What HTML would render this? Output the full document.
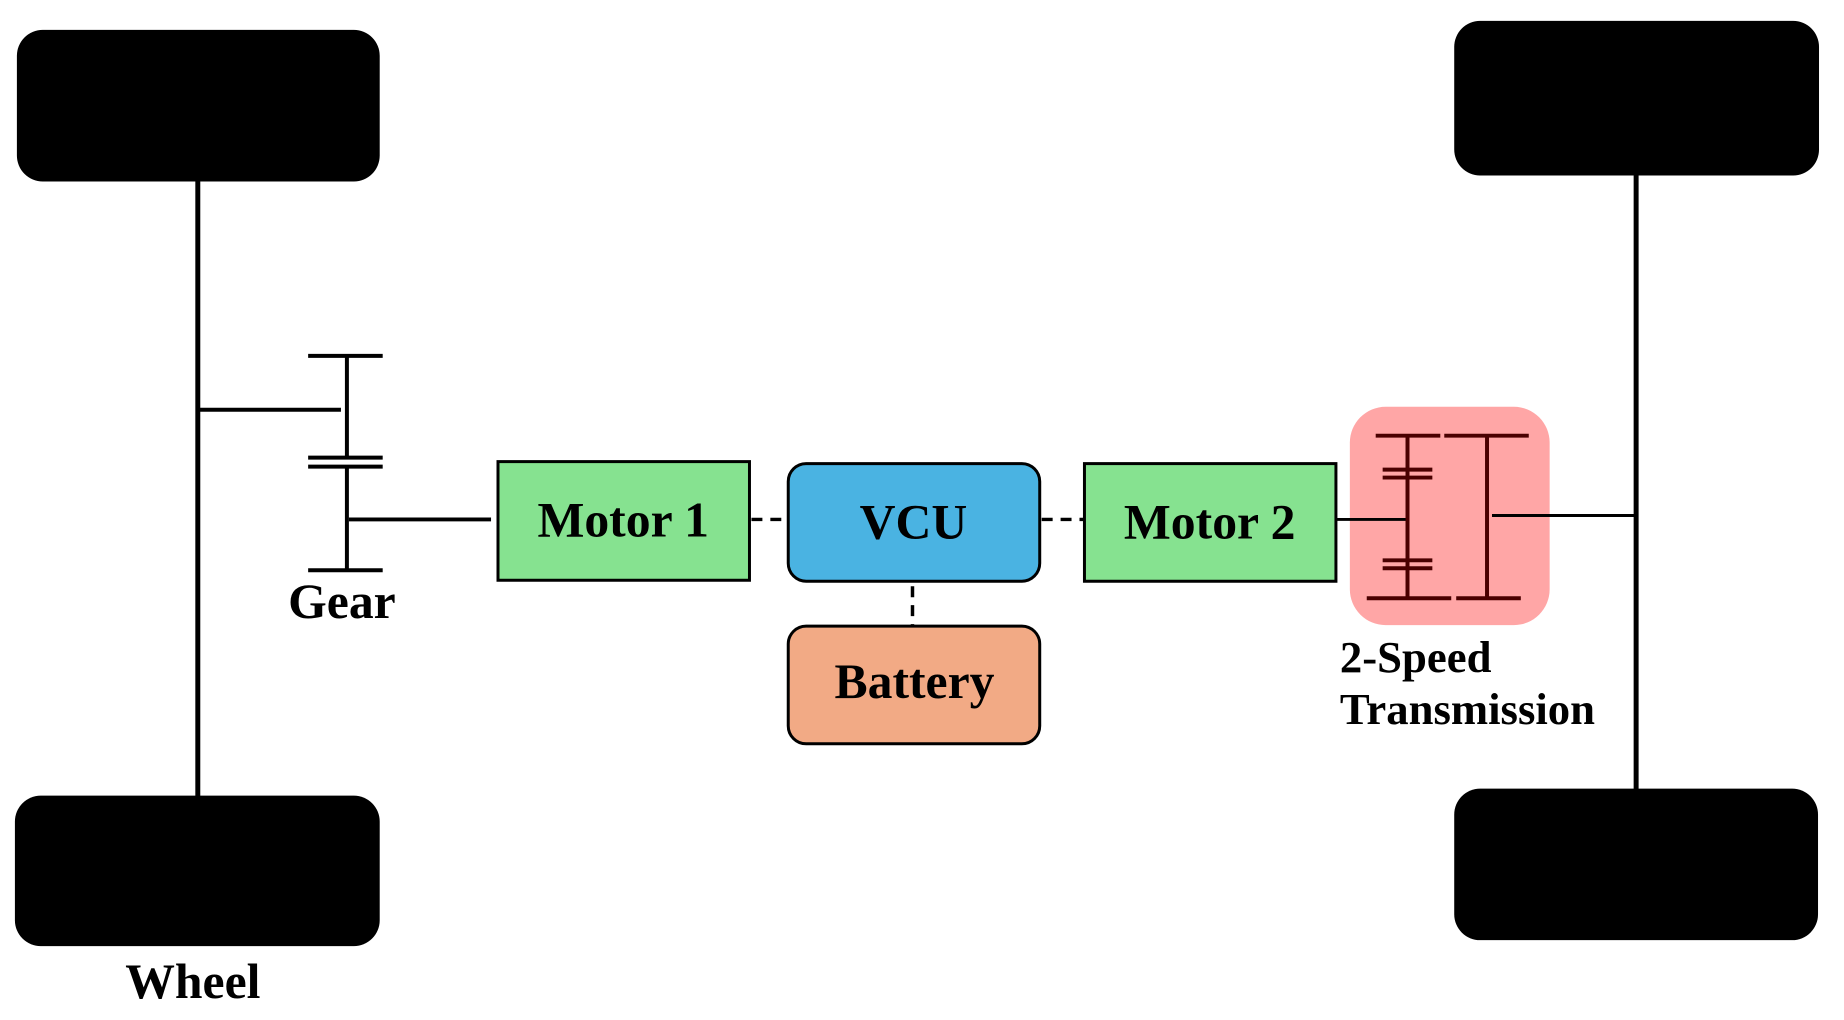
<!DOCTYPE html>
<html><head><meta charset="utf-8"><style>
html,body{margin:0;padding:0;background:#fff;width:1844px;height:1020px;overflow:hidden}
</style></head><body>
<svg width="1844" height="1020" viewBox="0 0 1844 1020" xmlns="http://www.w3.org/2000/svg" font-family="Liberation Serif, serif" font-weight="bold">
<g transform="scale(0.994,0.997)">
<rect x="17" y="30" width="365" height="152" rx="26" fill="#000"/>
<rect x="15" y="798" width="367" height="151" rx="26" fill="#000"/>
<rect x="1463" y="21" width="367" height="155" rx="26" fill="#000"/>
<rect x="1463" y="791" width="366" height="152" rx="26" fill="#000"/>
<g stroke="#000" stroke-width="5">
<line x1="199" y1="180" x2="199" y2="800"/>
<line x1="1646" y1="174" x2="1646" y2="793"/>
</g>
<g stroke="#000" stroke-width="4">
<line x1="199" y1="411" x2="343" y2="411"/>
<line x1="349" y1="357" x2="349" y2="459"/>
<line x1="349" y1="468" x2="349" y2="572"/>
<line x1="310" y1="357" x2="385" y2="357"/>
<line x1="310" y1="459" x2="385" y2="459"/>
<line x1="310" y1="468" x2="385" y2="468"/>
<line x1="310" y1="572" x2="385" y2="572"/>
<line x1="351" y1="521" x2="494" y2="521"/>
</g>
<g stroke="#000" stroke-width="3.5" stroke-dasharray="11,8">
<line x1="756" y1="521" x2="792" y2="521"/>
<line x1="1048" y1="521" x2="1090" y2="521"/>
<line x1="918" y1="588" x2="918" y2="627"/>
</g>
<rect x="501" y="463" width="253" height="119" fill="#86e290" stroke="#000" stroke-width="3"/>
<rect x="793" y="465" width="253" height="118" rx="18" fill="#4ab3e2" stroke="#000" stroke-width="3"/>
<rect x="1091" y="465" width="253" height="118" fill="#86e290" stroke="#000" stroke-width="3"/>
<rect x="793" y="628" width="253" height="118" rx="18" fill="#f2aa85" stroke="#000" stroke-width="3"/>
<g transform="translate(8,0)">
<rect x="1350" y="408" width="201" height="219" rx="36" fill="#ffa6a6"/>
<g stroke="#000" stroke-width="3">
<line x1="1336" y1="521" x2="1408" y2="521"/>
<line x1="1493" y1="517" x2="1638" y2="517"/>
</g>
<g stroke="#4a0000" stroke-width="4">
<line x1="1408" y1="437" x2="1408" y2="600"/>
<line x1="1488" y1="437" x2="1488" y2="600"/>
<line x1="1376" y1="437" x2="1441" y2="437"/>
<line x1="1445" y1="437" x2="1530" y2="437"/>
<line x1="1367" y1="600" x2="1452" y2="600"/>
<line x1="1457" y1="600" x2="1522" y2="600"/>
<line x1="1383" y1="471" x2="1433" y2="471"/>
<line x1="1383" y1="479" x2="1433" y2="479"/>
<line x1="1383" y1="562" x2="1433" y2="562"/>
<line x1="1383" y1="570" x2="1433" y2="570"/>
</g>
</g>
<g fill="#000" font-size="50" text-anchor="middle">
<text x="627" y="538">Motor 1</text>
<text x="919" y="540">VCU</text>
<text x="1217" y="540">Motor 2</text>
<text x="920" y="700">Battery</text>
<text x="344" y="620">Gear</text>
<text x="194" y="1001">Wheel</text>
</g>
<g fill="#000" font-size="45">
<text x="1348" y="674">2-Speed</text>
<text x="1348" y="726">Transmission</text>
</g>
</g>
</svg>
</body></html>
